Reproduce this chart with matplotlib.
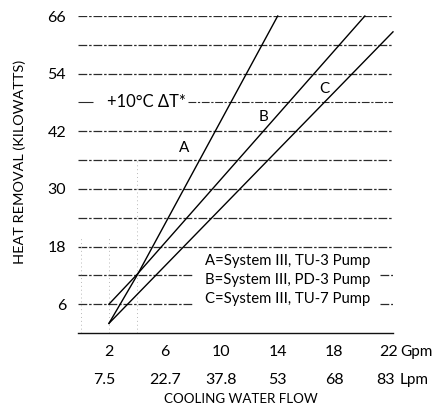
import matplotlib
matplotlib.use("Agg")
import matplotlib.pyplot as plt
import matplotlib.transforms as mtransforms

# ---- data ----
flow_a = [2.0, 4.0, 14.0]
heat_a = [2.0, 12.0, 66.0]
flow_b = [2.0, 4.0, 20.2]
heat_b = [6.0, 12.2, 66.0]
flow_c = [2.0, 22.2]
heat_c = [2.0, 62.7]

heat_ticks = [6, 18, 30, 42, 54, 66]
grid_levels = [6, 12, 18, 24, 30, 36, 42, 48, 54, 60, 66]
gpm_ticks = [2, 6, 10, 14, 18, 22]
gpm_labels = ["2", "6", "10", "14", "18", "22"]
lpm_labels = ["7.5", "22.7", "37.8", "53", "68", "83"]
legend_lines = ["A=System III, TU-3 Pump",
                "B=System III, PD-3 Pump",
                "C=System III, TU-7 Pump"]

plt.rcParams['font.family'] = ['Lato', 'DejaVu Sans']

fig = plt.figure(figsize=(4.36, 4.12), dpi=100)
ax = fig.add_axes([78/436, 1-333/412, (393-78)/436, (333-16)/412])
ax.set_xlim(-0.2, 22.2)
ax.set_ylim(0, 66)

gcol = '#2a2a2a'
gls = (0, (7, 1.5, 2, 1.5))
xmin, xmax = ax.get_xlim()
for lvl in grid_levels:
    if lvl == 48:
        ax.hlines(lvl, xmin, 0.85, color=gcol, lw=0.8)
        ax.hlines(lvl, 7.65, xmax, color=gcol, lw=0.8, linestyles=[gls])
    elif lvl in (12, 6):
        ax.hlines(lvl, xmin, 7.9, color=gcol, lw=0.9, linestyles=[gls])
        ax.hlines(lvl, 21.3, xmax, color=gcol, lw=0.9, linestyles=[gls])
    else:
        ax.hlines(lvl, xmin, xmax, color=gcol, lw=0.9, linestyles=[gls])

# faint vertical dotted lines
for vx, top in [(0.0, 20), (2.0, 20), (4.0, 36)]:
    ax.vlines(vx, 0, top, color='#b8b8b8', lw=0.7, linestyles=[(0, (1, 3))])

# curves
for fx, hy in [(flow_a, heat_a), (flow_b, heat_b), (flow_c, heat_c)]:
    ax.plot(fx, hy, color='black', lw=1.0, clip_on=False)

# curve labels
ax.text(7.35, 38.5, "A", fontsize=11, ha='center', va='center')
ax.text(13.0, 45.0, "B", fontsize=11, ha='center', va='center')
ax.text(17.3, 50.8, "C", fontsize=11, ha='center', va='center')

ax.text(1.85, 48, "+10°C ΔT*", fontsize=11.9, ha='left', va='center')

for i, s in enumerate(legend_lines):
    ax.text(8.85, 15 - 4 * i, s, fontsize=10.7, ha='left', va='center')

# axes styling
for sp in ['top', 'right', 'left']:
    ax.spines[sp].set_visible(False)
ax.spines['bottom'].set_linewidth(1.0)
ax.spines['bottom'].set_color('#111111')

ax.set_yticks(heat_ticks)
ax.set_yticklabels([str(v) for v in heat_ticks], fontsize=11.5)
ax.tick_params(axis='y', length=0, pad=8.5)

ax.set_xticks(gpm_ticks)
ax.set_xticklabels([])
ax.tick_params(axis='x', length=0)

trans = mtransforms.blended_transform_factory(ax.transData, ax.transAxes)
row1 = -(352-333)/317
row2 = -(380-333)/317
for t, g, l in zip(gpm_ticks, gpm_labels, lpm_labels):
    ax.text(t - (0.1 if t == 22 else 0), row1, g, transform=trans, fontsize=11.5,
            ha='center', va='center')
    shift = 0.3 if t in (2, 22) else 0
    ax.text(t - shift, row2, l, transform=trans, fontsize=11.5,
            ha='center', va='center')
ax.annotate("Gpm", xy=(gpm_ticks[-1], row1), xycoords=trans, xytext=(7.5, 0),
            textcoords='offset points', fontsize=11, ha='left', va='center')
ax.annotate("Lpm", xy=(gpm_ticks[-1], row2), xycoords=trans, xytext=(6.5, 0),
            textcoords='offset points', fontsize=11, ha='left', va='center')

fig.text(241/436, 1-399/412, "COOLING WATER FLOW", fontsize=9.6, ha='center', va='center')
fig.text(20/436, 1-161.5/412, "HEAT REMOVAL (KILOWATTS)", fontsize=10.4, ha='center',
         va='center', rotation=90)

fig.savefig("out.png", dpi=100)
